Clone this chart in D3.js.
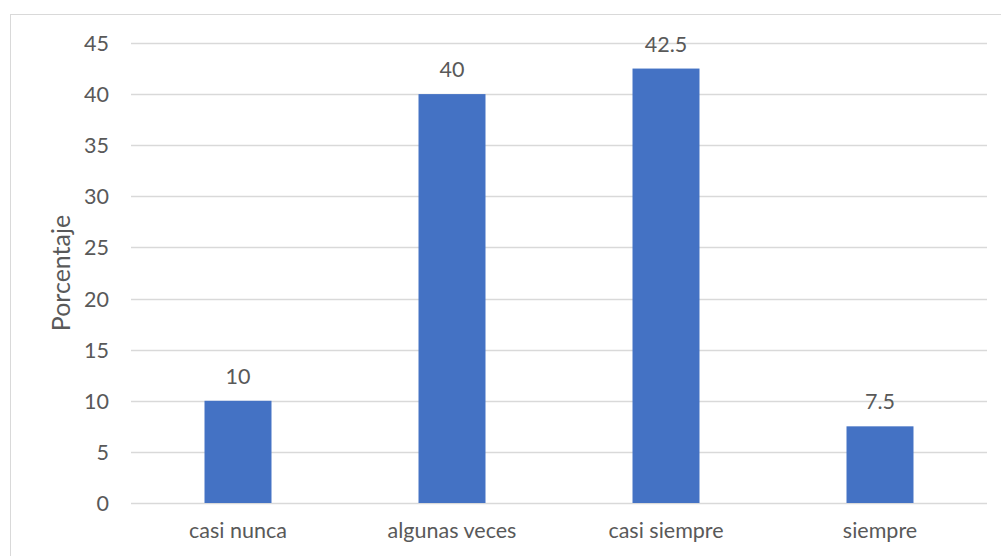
<!DOCTYPE html>
<html>
<head>
<meta charset="utf-8">
<script src="https://cdn.jsdelivr.net/npm/d3@7"></script>
<style>
  html, body { margin: 0; padding: 0; background: #fff; }
  svg { display: block; }
  text { font-family: "Lato", "Open Sans", sans-serif; fill: #595959; }
</style>
</head>
<body>
<svg id="chart" width="1001" height="556"></svg>
<script>
const categories = ["casi nunca", "algunas veces", "casi siempre", "siempre"];
const values = [10, 40, 42.5, 7.5];
const yTicks = [0, 5, 10, 15, 20, 25, 30, 35, 40, 45];
const yTitle = "Porcentaje";

const svg = d3.select("#chart");
const W = 1001, H = 556;
const plot = { left: 131, right: 987, top: 43, bottom: 503 };
const FS = 21.5;

// outer chart frame
svg.append("rect")
  .attr("x", 10.5).attr("y", 14.5)
  .attr("width", W + 10).attr("height", H + 10)
  .attr("fill", "none").attr("stroke", "#d9d9d9").attr("stroke-width", 1);

const x = d3.scaleBand()
  .domain(categories)
  .range([plot.left, plot.right])
  .paddingInner(0.687)
  .paddingOuter(0.3435);

const y = d3.scaleLinear().domain([0, 45]).range([plot.bottom, plot.top]);

// horizontal gridlines
svg.append("g")
  .selectAll("line")
  .data(yTicks)
  .join("line")
  .attr("x1", plot.left).attr("x2", plot.right)
  .attr("y1", d => Math.round(y(d)) + 0.5).attr("y2", d => Math.round(y(d)) + 0.5)
  .attr("stroke", "#d9d9d9").attr("stroke-width", 1.3);

// y axis labels
const yAxis = d3.axisLeft(y).tickValues(yTicks).tickSize(0).tickPadding(0);
const yg = svg.append("g").attr("transform", `translate(${plot.left - 22},0)`).call(yAxis);
yg.select(".domain").remove();
yg.selectAll("text").attr("font-size", FS).attr("font-family", "Lato, sans-serif").attr("fill", "#595959").attr("dy", "0.35em");

// x axis labels
const xAxis = d3.axisBottom(x).tickSize(0).tickPadding(0);
const xg = svg.append("g").attr("transform", `translate(0,${plot.bottom + 20})`).call(xAxis);
xg.select(".domain").remove();
xg.selectAll("text").attr("font-size", FS).attr("font-family", "Lato, sans-serif").attr("fill", "#595959").attr("dy", "0.71em");

// bars
svg.append("g")
  .selectAll("rect")
  .data(values)
  .join("rect")
  .attr("x", (d, i) => x(categories[i]))
  .attr("y", d => y(d))
  .attr("width", x.bandwidth())
  .attr("height", d => y(0) - y(d))
  .attr("fill", "#4472c4");

// value labels
svg.append("g")
  .selectAll("text")
  .data(values)
  .join("text")
  .attr("x", (d, i) => x(categories[i]) + x.bandwidth() / 2)
  .attr("y", d => y(d) - 17)
  .attr("text-anchor", "middle")
  .attr("font-size", FS)
  .text(d => d);

// y axis title
svg.append("text")
  .attr("transform", `translate(70,${(plot.top + plot.bottom) / 2}) rotate(-90)`)
  .attr("text-anchor", "middle")
  .attr("font-size", 25)
  .text(yTitle);
</script>
</body>
</html>
